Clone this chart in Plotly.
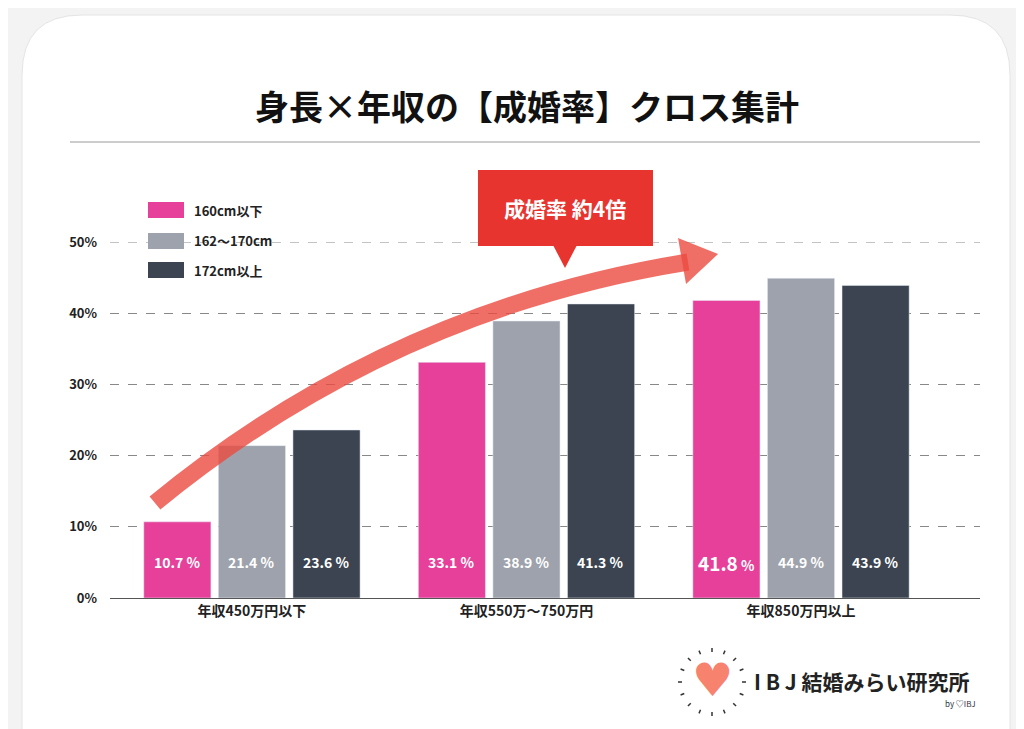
import plotly.graph_objects as go
import math

categories = ["年収450万円以下", "年収550万〜750万円", "年収850万円以上"]
series_names = ["160cm以下", "162〜170cm", "172cm以上"]
s160 = [10.7, 33.1, 41.8]
s162 = [21.4, 38.9, 44.9]
s172 = [23.6, 41.3, 43.9]
colors = ["#E6409A", "#9EA2AC", "#3B4450"]
FONT = "Noto Sans CJK JP"
OFF = 8
W, H = 1024 - OFF, 729 - OFF

L, R, T, B = 110, 980, 242, 598
def px(x, y):
    return (x - L) / (R - L), (B - y) / (B - T)
def pp(x, y):
    a, b = px(x, y); return f"{a:.4f},{b:.4f}"

fig = go.Figure()
for name, vals, c in zip(series_names, [s160, s162, s172], colors):
    fig.add_bar(x=categories, y=vals, name=name, marker_color=c, showlegend=False)

ann = []
for i, vals in enumerate([s160, s162, s172]):
    for j, v in enumerate(vals):
        big = (i == 0 and j == 2)
        txt = f"<b><span style='font-size:19px'>{v}</span> %</b>" if big else f"<b>{v} %</b>"
        ann.append(dict(x=categories[j], y=5, xshift=(i - 1) * 74.5, text=txt, yanchor="middle",
                        showarrow=False, font=dict(color="white", size=14, family=FONT)))

def label(x, y, text, size, color, xanchor="center", family=FONT):
    tx, ty = px(x, y)
    ann.append(dict(xref="paper", yref="paper", x=tx, y=ty, xanchor=xanchor, yanchor="middle", text=text,
                    showarrow=False, font=dict(size=size, color=color, family=family)))

shapes = []
r = 60
shapes.append(dict(type="path", xref="paper", yref="paper", layer="below",
    path=f"M{pp(22+r,15)} L{pp(1010-r,15)} Q{pp(1010,15)} {pp(1010,15+r)} L{pp(1010,740)} L{pp(22,740)} L{pp(22,15+r)} Q{pp(22,15)} {pp(22+r,15)} Z",
    fillcolor="white", line=dict(color="#e4e4e4", width=1)))
a0, b0 = px(70, 142); a1, _ = px(980, 142)
shapes.append(dict(type="line", xref="paper", yref="paper", x0=a0, x1=a1, y0=b0, y1=b0, line=dict(color="#9a9a9a", width=1)))
shapes.append(dict(type="line", xref="paper", yref="y", x0=0, x1=1, y0=50, y1=50, layer="below",
                   line=dict(color="#888", width=1, dash="dash")))
for k, yy in enumerate([210, 241, 270]):
    x0, y0 = px(148, yy - 8); x1, y1 = px(184, yy + 8)
    shapes.append(dict(type="rect", xref="paper", yref="paper", x0=x0, x1=x1, y0=y1, y1=y0, fillcolor=colors[k], line_width=0))
    label(192, yy, f"<b>{series_names[k]}</b>", 13, "#222", xanchor="left")
shapes.append(dict(type="path", xref="paper", yref="paper",
    path=f"M{pp(155,503)} Q{pp(390,310)} {pp(688,262)}", line=dict(color="rgba(235,75,65,0.8)", width=17)))
shapes.append(dict(type="path", xref="paper", yref="paper",
    path=f"M{pp(678,238)} L{pp(718,254)} L{pp(686,284)} Z", fillcolor="rgba(235,75,65,0.8)", line_width=0))
x0, y0 = px(478, 170); x1, y1 = px(653, 246)
shapes.append(dict(type="rect", xref="paper", yref="paper", x0=x0, x1=x1, y0=y1, y1=y0, fillcolor="#E8342F", line_width=0))
shapes.append(dict(type="path", xref="paper", yref="paper",
    path=f"M{pp(553,245)} L{pp(577,245)} L{pp(565,268)} Z", fillcolor="#E8342F", line_width=0))
label(565, 208, "<b>成婚率 約4倍</b>", 21, "white")
label(527, 106, "<b>身長×年収の【成婚率】クロス集計</b>", 34, "#111")
for k in range(16):
    ang = 2 * math.pi * k / 16
    cx, cy = 712 + 30 * math.cos(ang), 682 + 30 * math.sin(ang)
    ex, ey = 712 + 34 * math.cos(ang), 682 + 34 * math.sin(ang)
    a, b = px(cx, cy); c, d = px(ex, ey)
    shapes.append(dict(type="line", xref="paper", yref="paper", x0=a, y0=b, x1=c, y1=d, line=dict(color="#333", width=1.5)))
label(712, 680, "♥", 46, "#F7836F", family="DejaVu Sans")
label(752, 681, "<b>I B J 結婚みらい研究所</b>", 21, "#222", xanchor="left")
label(978, 703, "by ♡IBJ", 8, "#334", xanchor="right")

fig.update_layout(
    width=W, height=H, margin=dict(l=L - OFF, r=1024 - R, t=T - OFF, b=729 - B),
    paper_bgcolor="#f3f3f3", plot_bgcolor="rgba(0,0,0,0)",
    barmode="group", bargap=0.185, bargroupgap=0.1,
    font=dict(family=FONT, color="#222"),
    shapes=shapes, annotations=ann,
    xaxis=dict(range=[-0.517, 2.652], showline=True, linecolor="#555", linewidth=1, ticks="",
               tickfont=dict(size=14, color="#222", weight="bold")),
    yaxis=dict(range=[0, 50], dtick=10, ticksuffix="%", showgrid=True, griddash="dash", gridcolor="#888",
               gridwidth=1, zeroline=False, tickfont=dict(size=13, color="#222", weight="bold"), ticklabelstandoff=12),
)
fig.write_html("out.html")
